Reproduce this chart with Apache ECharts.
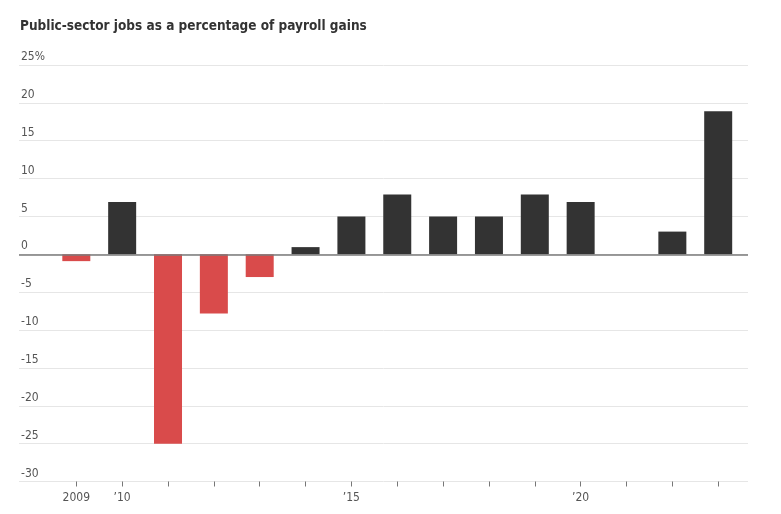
<!DOCTYPE html>
<html>
<head>
<meta charset="utf-8">
<script src="https://cdn.jsdelivr.net/npm/echarts@6/dist/echarts.min.js"></script>
<style>
html,body{margin:0;padding:0;background:#fff;}
#c{width:781px;height:514px;}
</style>
</head>
<body>
<div id="c"></div>
<script>
const years = [2009, 2010, 2011, 2012, 2013, 2014, 2015, 2016, 2017, 2018, 2019, 2020, 2021, 2022, 2023];
const values = [-0.9, 6.9, -25.0, -7.8, -3.0, 0.95, 5.0, 7.9, 5.0, 5.0, 7.9, 6.9, null, 3.0, 18.9];
const xLabelYears = [2009, 2010, 2015, 2020];
const xLabelText = {2009: '2009', 2010: '\u201910', 2015: '\u201915', 2020: '\u201920'};
const yTop = 25, yBottom = -30, yStep = 5;
const titleText = 'Public-sector jobs as a percentage of payroll gains';

const narrow = "'Liberation Sans Narrow', 'DejaVu Sans Condensed', 'Noto Sans', sans-serif";
const chart = echarts.init(document.getElementById('c'), null, {renderer: 'canvas'});
chart.setOption({
  animation: false,
  backgroundColor: '#fff',
  title: {
    text: titleText,
    left: 20, top: 19, padding: 0,
    textStyle: {fontFamily: narrow, fontSize: 13.5, fontWeight: 'bold', color: '#333'}
  },
  grid: {left: 19, right: 33, top: 65, bottom: 32.5, containLabel: false},
  xAxis: {
    type: 'value',
    min: 2007.75, max: 2023.65,
    axisLine: {show: false, onZero: false},
    splitLine: {show: false},
    axisTick: {show: true, customValues: years, length: 5, lineStyle: {color: '#777'}},
    axisLabel: {
      customValues: xLabelYears,
      formatter: v => xLabelText[v] || '',
      fontFamily: narrow, fontSize: 12, color: '#555', margin: 10
    }
  },
  yAxis: {
    type: 'value',
    min: yBottom, max: yTop, interval: yStep,
    axisLine: {show: false},
    axisTick: {show: false},
    splitLine: {lineStyle: {color: '#e6e6e6', width: 1}},
    axisLabel: {
      inside: true, margin: 2, verticalAlign: 'bottom', padding: [0, 0, 2, 0],
      fontFamily: narrow, fontSize: 12, color: '#555',
      formatter: v => v === yTop ? v + '%' : String(v)
    }
  },
  series: [{
    type: 'bar',
    barWidth: 28,
    data: years.map((y, i) => [y, values[i]]),
    itemStyle: {
      color: p => (p.value[1] < 0 ? '#d94b4b' : '#333333')
    },
    markLine: {
      silent: true, symbol: 'none', label: {show: false},
      lineStyle: {color: '#7a7a7a', width: 1.5, type: 'solid'},
      data: [{yAxis: 0}]
    }
  }]
});
</script>
</body>
</html>
